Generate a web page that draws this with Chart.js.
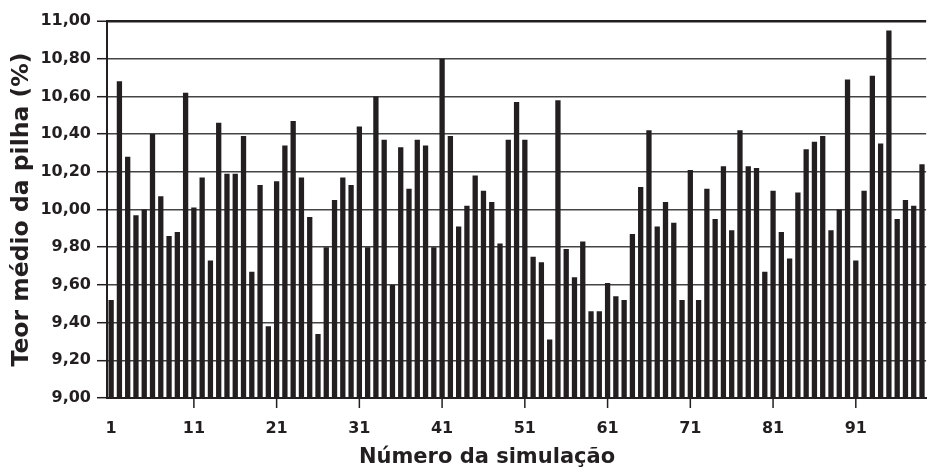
<!DOCTYPE html>
<html>
<head>
<meta charset="utf-8">
<script src="https://cdn.jsdelivr.net/npm/chart.js@4/dist/chart.umd.min.js"></script>
<style>
  body { margin: 0; background: #fff; }
</style>
</head>
<body>
<canvas id="grafico" width="933" height="469"></canvas>
<script>
// Dados do gráfico
const simulacoes = [
  '1', '2', '3', '4', '5', '6', '7', '8', '9', '10',
  '11', '12', '13', '14', '15', '16', '17', '18', '19', '20',
  '21', '22', '23', '24', '25', '26', '27', '28', '29', '30',
  '31', '32', '33', '34', '35', '36', '37', '38', '39', '40',
  '41', '42', '43', '44', '45', '46', '47', '48', '49', '50',
  '51', '52', '53', '54', '55', '56', '57', '58', '59', '60',
  '61', '62', '63', '64', '65', '66', '67', '68', '69', '70',
  '71', '72', '73', '74', '75', '76', '77', '78', '79', '80',
  '81', '82', '83', '84', '85', '86', '87', '88', '89', '90',
  '91', '92', '93', '94', '95', '96', '97', '98', '99'
];

const teorMedio = [
  9.52, 10.68, 10.28, 9.97, 10.00, 10.40, 10.07, 9.86, 9.88, 10.62,
  10.01, 10.17, 9.73, 10.46, 10.19, 10.19, 10.39, 9.67, 10.13, 9.38,
  10.15, 10.34, 10.47, 10.17, 9.96, 9.34, 9.80, 10.05, 10.17, 10.13,
  10.44, 9.80, 10.60, 10.37, 9.60, 10.33, 10.11, 10.37, 10.34, 9.80,
  10.80, 10.39, 9.91, 10.02, 10.18, 10.10, 10.04, 9.82, 10.37, 10.57,
  10.37, 9.75, 9.72, 9.31, 10.58, 9.79, 9.64, 9.83, 9.46, 9.46,
  9.61, 9.54, 9.52, 9.87, 10.12, 10.42, 9.91, 10.04, 9.93, 9.52,
  10.21, 9.52, 10.11, 9.95, 10.23, 9.89, 10.42, 10.23, 10.22, 9.67,
  10.10, 9.88, 9.74, 10.09, 10.32, 10.36, 10.39, 9.89, 10.00, 10.69,
  9.73, 10.10, 10.71, 10.35, 10.95, 9.95, 10.05, 10.02, 10.24
];

// Rótulos que aparecem nos eixos
const rotulosX = ['1', '11', '21', '31', '41', '51', '61', '71', '81', '91'];
const marcasX = ['11', '21', '31', '41', '51', '61', '71', '81', '91']; // traços abaixo do eixo
const rotulosY = ['9,00', '9,20', '9,40', '9,60', '9,80', '10,00', '10,20', '10,40', '10,60', '10,80', '11,00'];

const corTexto = '#231f20';
const fonte = 'DejaVu Sans';

// Título do eixo x e traços do eixo x (o título fica deslocado para a esquerda na figura)
const extrasEixoX = {
  id: 'extrasEixoX',
  afterDraw(chart) {
    const ctx = chart.ctx;
    const escalaX = chart.scales.x;
    ctx.save();
    // traços nas simulações 11, 21, ..., 91
    ctx.strokeStyle = corTexto;
    ctx.lineWidth = 1.5;
    escalaX.ticks.forEach((t, i) => {
      if (marcasX.includes(simulacoes[i])) {
        const px = escalaX.getPixelForTick(i);
        ctx.beginPath();
        ctx.moveTo(px, escalaX.top);
        ctx.lineTo(px, escalaX.top + 10);
        ctx.stroke();
      }
    });
    ctx.font = 'bold 21px "' + fonte + '"';
    ctx.fillStyle = corTexto;
    ctx.textAlign = 'center';
    ctx.textBaseline = 'alphabetic';
    ctx.fillText('Número da simulação', 487, 463);
    ctx.restore();
  }
};

const config = {
  type: 'bar',
  data: {
    labels: simulacoes,
    datasets: [{
      data: teorMedio,
      backgroundColor: '#231f20',
      borderWidth: 0,
      barPercentage: 0.64,
      categoryPercentage: 1.0
    }]
  },
  options: {
    responsive: false,
    animation: false,
    layout: {
      padding: { top: 21, left: 0, right: 0, bottom: 0 }
    },
    plugins: {
      legend: { display: false },
      tooltip: { enabled: false }
    },
    scales: {
      x: {
        grid: {
          offset: false,
          drawOnChartArea: false,
          drawTicks: true,
          tickLength: 10,
          tickColor: 'rgba(0,0,0,0)'
        },
        border: { color: '#231f20', width: 2 },
        ticks: {
          autoSkip: false,
          maxRotation: 0,
          padding: 11,
          color: corTexto,
          font: { family: fonte, size: 16, weight: 'bold' },
          callback: function (valor, indice) {
            const rotulo = simulacoes[indice];
            return rotulosX.includes(rotulo) ? rotulo : '';
          }
        },
        afterFit: (escala) => { escala.height = 71; }
      },
      y: {
        min: 9,
        max: 11,
        ticks: {
          stepSize: 0.2,
          padding: 6,
          color: corTexto,
          font: { family: fonte, size: 16, weight: 'bold' },
          callback: function (valor, indice) {
            return rotulosY[indice];
          }
        },
        grid: {
          color: (c) => c.index === 10 ? '#231f20' : '#444',
          lineWidth: (c) => c.index === 10 ? 2.5 : 1.4,
          tickLength: 10,
          tickColor: '#231f20',
          tickWidth: 1.5
        },
        border: { color: '#231f20', width: 2 },
        title: {
          display: true,
          text: 'Teor médio da pilha (%)',
          color: corTexto,
          font: { family: fonte, size: 23.5, weight: 'bold' },
          padding: { top: 8, bottom: 0 }
        },
        afterFit: (escala) => { escala.width = 107; }
      }
    }
  },
  plugins: [extrasEixoX]
};

document.addEventListener('DOMContentLoaded', function () {
  const ctx = document.getElementById('grafico').getContext('2d');
  new Chart(ctx, config);
});
</script>
</body>
</html>
